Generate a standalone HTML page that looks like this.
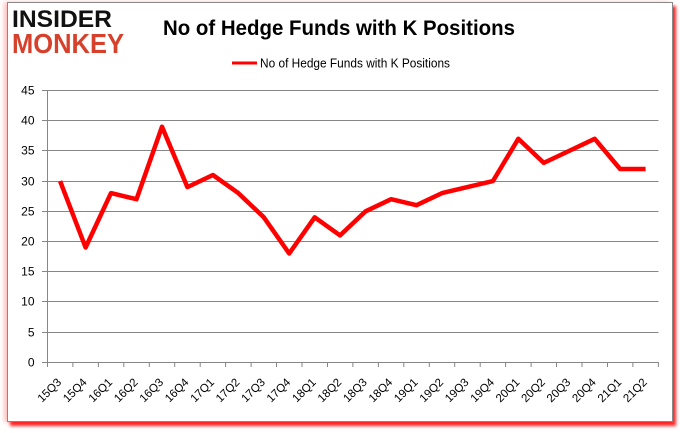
<!DOCTYPE html>
<html><head><meta charset="utf-8"><style>
html,body{margin:0;padding:0;background:#fff;}
body{width:680px;height:433px;position:relative;overflow:hidden;}
.frame{position:absolute;left:7px;top:2px;width:664px;height:418px;border:1px solid #888;background:#fff;
box-shadow:3px 4px 3px rgba(255,0,0,0.85),-3px 0 4px rgba(255,80,80,0.35);}
svg{position:absolute;left:0;top:0;}
text{font-family:"Liberation Sans",Arial,sans-serif;}
</style></head><body>
<div class="frame"></div>
<svg width="680" height="433" viewBox="0 0 680 433">
<text x="12" y="27" font-size="24" font-weight="bold" fill="#111" textLength="100" lengthAdjust="spacingAndGlyphs">INSIDER</text>
<text x="12" y="53" font-size="28" font-weight="bold" fill="#d7402b" textLength="112" lengthAdjust="spacingAndGlyphs">MONKEY</text>
<text x="163" y="35" font-size="21" font-weight="bold" fill="#000" textLength="352" lengthAdjust="spacingAndGlyphs">No of Hedge Funds with K Positions</text>
<line x1="232" y1="63" x2="257" y2="63" stroke="#ff0000" stroke-width="3"/>
<text x="260" y="67.5" font-size="12.5" fill="#000" textLength="190" lengthAdjust="spacingAndGlyphs">No of Hedge Funds with K Positions</text>
<g stroke="#868686" stroke-width="1" fill="none">
<line x1="47.5" y1="90.5" x2="658.5" y2="90.5"/>
<line x1="47.5" y1="120.5" x2="658.5" y2="120.5"/>
<line x1="47.5" y1="150.5" x2="658.5" y2="150.5"/>
<line x1="47.5" y1="181.5" x2="658.5" y2="181.5"/>
<line x1="47.5" y1="211.5" x2="658.5" y2="211.5"/>
<line x1="47.5" y1="241.5" x2="658.5" y2="241.5"/>
<line x1="47.5" y1="271.5" x2="658.5" y2="271.5"/>
<line x1="47.5" y1="301.5" x2="658.5" y2="301.5"/>
<line x1="47.5" y1="332.5" x2="658.5" y2="332.5"/>
<line x1="47.5" y1="362.5" x2="658.5" y2="362.5"/>
<line x1="47.5" y1="90" x2="47.5" y2="363"/>
<path d="M42 90.5H47.5M42 120.5H47.5M42 150.5H47.5M42 181.5H47.5M42 211.5H47.5M42 241.5H47.5M42 271.5H47.5M42 301.5H47.5M42 332.5H47.5M42 362.5H47.5"/>
<path d="M47.5 362V367M72.9 362V367M98.4 362V367M123.8 362V367M149.3 362V367M174.7 362V367M200.2 362V367M225.6 362V367M251.1 362V367M276.5 362V367M302 362V367M327.5 362V367M352.9 362V367M378.4 362V367M403.8 362V367M429.3 362V367M454.7 362V367M480.2 362V367M505.6 362V367M531.1 362V367M556.5 362V367M582 362V367M607.5 362V367M632.9 362V367M658.4 362V367"/>
</g>
<g font-size="12" fill="#000" text-anchor="end">
<text x="34.5" y="94.5">45</text>
<text x="34.5" y="124.5">40</text>
<text x="34.5" y="154.5">35</text>
<text x="34.5" y="185.5">30</text>
<text x="34.5" y="215.5">25</text>
<text x="34.5" y="245.5">20</text>
<text x="34.5" y="275.5">15</text>
<text x="34.5" y="305.5">10</text>
<text x="34.5" y="336.5">5</text>
<text x="34.5" y="366.5">0</text>
</g>
<g font-size="11.5" fill="#000" text-anchor="end">
<text transform="translate(62,383) rotate(-45)">15Q3</text>
<text transform="translate(87.5,383) rotate(-45)">15Q4</text>
<text transform="translate(113,383) rotate(-45)">16Q1</text>
<text transform="translate(138.5,383) rotate(-45)">16Q2</text>
<text transform="translate(164,383) rotate(-45)">16Q3</text>
<text transform="translate(189.4,383) rotate(-45)">16Q4</text>
<text transform="translate(214.9,383) rotate(-45)">17Q1</text>
<text transform="translate(240.3,383) rotate(-45)">17Q2</text>
<text transform="translate(265.8,383) rotate(-45)">17Q3</text>
<text transform="translate(291.2,383) rotate(-45)">17Q4</text>
<text transform="translate(316.7,383) rotate(-45)">18Q1</text>
<text transform="translate(342.1,383) rotate(-45)">18Q2</text>
<text transform="translate(367.6,383) rotate(-45)">18Q3</text>
<text transform="translate(393.1,383) rotate(-45)">18Q4</text>
<text transform="translate(418.5,383) rotate(-45)">19Q1</text>
<text transform="translate(444,383) rotate(-45)">19Q2</text>
<text transform="translate(469.4,383) rotate(-45)">19Q3</text>
<text transform="translate(494.9,383) rotate(-45)">19Q4</text>
<text transform="translate(520.3,383) rotate(-45)">20Q1</text>
<text transform="translate(545.8,383) rotate(-45)">20Q2</text>
<text transform="translate(571.2,383) rotate(-45)">20Q3</text>
<text transform="translate(596.7,383) rotate(-45)">20Q4</text>
<text transform="translate(622.1,383) rotate(-45)">21Q1</text>
<text transform="translate(647.6,383) rotate(-45)">21Q2</text>
</g>
<polyline fill="none" stroke="#ff0000" stroke-width="4.5" stroke-linejoin="round" stroke-linecap="butt"
points="60.1,181.1 85.6,247.5 111,193.1 136.5,199.2 162,126.7 187.4,187.1 212.9,175 238.3,193.1 263.8,217.3 289.2,253.5 314.7,217.3 340.1,235.4 365.6,211.3 391.1,199.2 416.5,205.2 442,193.1 467.4,187.1 492.9,181.1 518.3,138.8 543.8,162.9 569.2,150.9 594.7,138.8 620.1,169 645.6,169"/>
</svg>
</body></html>
